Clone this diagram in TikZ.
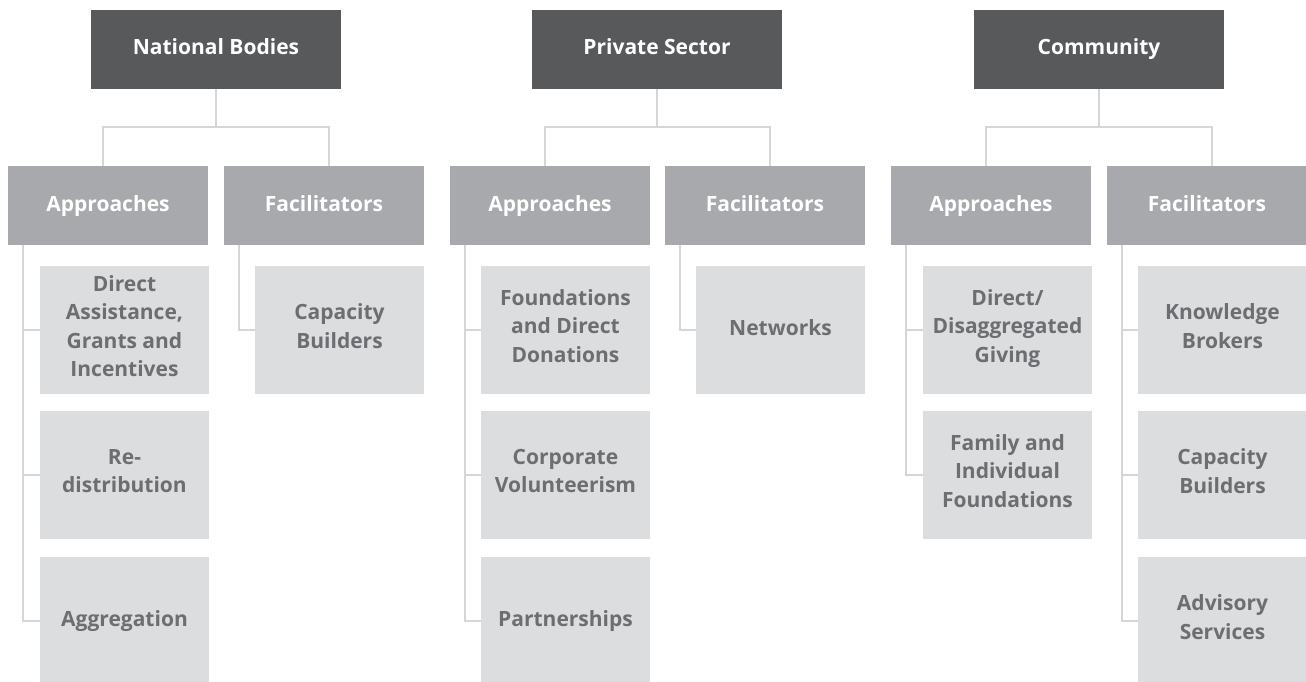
\documentclass[tikz,border=0pt]{standalone}
\usepackage{fontspec}
\setmainfont{Open Sans}
\usetikzlibrary{calc}
\definecolor{hdrc}{HTML}{58595B}
\definecolor{midc}{HTML}{A7A9AC}
\definecolor{leafc}{HTML}{DCDDDF}
\definecolor{leaftxt}{HTML}{6D6E71}
\definecolor{linec}{HTML}{D5D6D8}
\newcommand\boxstrut{\rule[-8pt]{0pt}{27pt}}
\begin{document}
\begin{tikzpicture}[x=1pt,y=-1pt,
  box/.style={rectangle,inner sep=0pt,outer sep=0pt,anchor=north west,align=center,
    font=\fontsize{21}{28.3}\selectfont\bfseries,
    execute at begin node=\boxstrut, execute at end node=\boxstrut},
  hdr/.style={box,fill=hdrc,text=white,minimum width=250pt,minimum height=79pt},
  mid/.style={box,fill=midc,text=white,minimum width=200pt,minimum height=79pt},
  leaf/.style={box,fill=leafc,text=leaftxt,minimum width=169pt,minimum height=128pt},
  conn/.style={draw=linec,line width=2pt}]
\useasboundingbox (0,0) rectangle (1306,682);
% column 1
\node[hdr] (h1) at (91,10) {National Bodies};
\node[mid] (a1) at (8,166) {Approaches};
\node[mid] (f1) at (224,166) {Facilitators};
\node[leaf] (c11) at (40,266) {Direct\\Assistance,\\Grants and\\Incentives};
\node[leaf] (c12) at (40,411) {Re-\\distribution};
\node[leaf] (c13) at (40,557) {Aggregation};
\node[leaf] (d11) at (255,266) {Capacity\\Builders};
% column 2
\node[hdr] (h2) at (532,10) {Private Sector};
\node[mid] (a2) at (450,166) {Approaches};
\node[mid] (f2) at (665,166) {Facilitators};
\node[leaf] (c21) at (481,266) {Foundations\\and Direct\\Donations};
\node[leaf] (c22) at (481,411) {Corporate\\Volunteerism};
\node[leaf] (c23) at (481,557) {Partnerships};
\node[leaf] (d21) at (696,266) {Networks};
% column 3
\node[hdr] (h3) at (974,10) {Community};
\node[mid] (a3) at (891,166) {Approaches};
\node[mid] (f3) at (1107,166) {Facilitators};
\node[leaf] (c31) at (923,266) {Direct/\\Disaggregated\\Giving};
\node[leaf] (c32) at (923,411) {Family and\\Individual\\Foundations};
\node[leaf] (d31) at (1138,266) {Knowledge\\Brokers};
\node[leaf] (d32) at (1138,411) {Capacity\\Builders};
\node[leaf] (d33) at (1138,557) {Advisory\\Services};
% connectors header -> mid
\foreach \i in {1,2,3}{
  \draw[conn] (h\i.south) -- ++(0,38) coordinate (m\i);
  \draw[conn] ($(a\i.north)+(-5,0)$) |- (m\i);
  \draw[conn] ($(f\i.north)+(5,0)$) |- (m\i);
}
% connectors mid -> leaves
\foreach \p/\c in {a1/c11,a1/c12,a1/c13,f1/d11,a2/c21,a2/c22,a2/c23,f2/d21,a3/c31,a3/c32,f3/d31,f3/d32,f3/d33}{
  \draw[conn] ($(\p.south west)+(14.5,0)$) |- (\c.west);
}
\end{tikzpicture}
\end{document}
